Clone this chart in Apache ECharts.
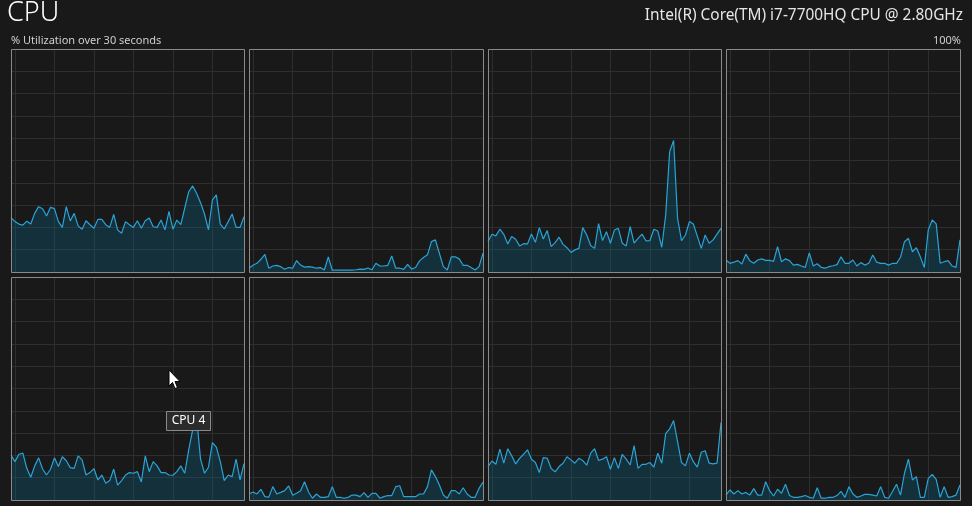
<!DOCTYPE html>
<html>
<head>
<meta charset="utf-8">
<script src="https://cdn.jsdelivr.net/npm/echarts@6/dist/echarts.min.js"></script>
<style>
  html, body { margin: 0; padding: 0; background: #191919; }
  #chart { width: 972px; height: 506px; }
</style>
</head>
<body>
<div id="chart"></div>
<script>
// ---- data ----
const samples = ['0','1','2','3','4','5','6','7','8','9','10','11','12','13','14','15','16','17','18','19',
  '20','21','22','23','24','25','26','27','28','29','30','31','32','33','34','35','36','37','38','39',
  '40','41','42','43','44','45','46','47','48','49','50','51','52','53','54','55','56','57','58','59'];

const cpu0 = [24.4,22.6,21.5,21,22.8,21.5,26.3,29.3,28.4,25.1,29,28.4,22.6,20,29.3,22.9,26.3,20.7,19.2,23,
  21.2,19.6,23.6,23.6,21.2,20,25.8,18.9,17.4,22.6,21.2,20,23,19.6,23,24.2,20.3,20,23.3,18.9,
  27.2,19.2,23.3,21.2,28.7,36,38.6,35.3,31.1,26,18.9,32.3,34.6,21.5,19.3,22.6,26,20,20,24.8];
const cpu1 = [1.7,3,3.9,5.7,7.9,1.7,2.7,3,2.4,1.2,2,1.7,5.1,3.1,2.2,2.4,2.2,1.7,2,0.9,
  6.8,0.8,0.8,0.8,0.8,0.8,0.8,1,1.3,1.2,1.8,1,3.9,2.7,2.7,3,7.2,1.7,1.7,1.2,
  3.4,1.3,2,5,6.5,7.7,13.6,14.4,8.4,2.4,0.9,6.8,6.8,5.9,3,3,2,0.9,2.4,8.4];
const cpu2 = [13.6,16.9,16.2,19.2,16.9,12.6,15.9,14.7,11.7,12.7,12.6,17,13.3,19.9,14.8,18.6,11.4,13.2,15.6,12.4,
  10.9,8.8,9.9,10.6,19.9,16.6,11.9,10.6,21.7,14.1,18.1,12.9,18.8,19.6,12.9,11.7,20.4,12.9,15.1,17,
  14,14.1,19.2,18.4,11.1,25.6,54,59,24.1,14.1,16.6,22.6,21.5,16.1,10.6,16.6,12.9,14.4,17,19.6];
const cpu3 = [5.4,3.9,4.4,5.1,3.6,8,5,3.9,5.4,5.9,5.2,5.2,4.8,11.4,4.6,5.9,5.1,3.1,3.4,2.7,
  2.1,8.6,2.7,3.7,2.1,1.7,2.4,2.8,3.3,6.8,3.9,3.9,5.4,2.7,4.2,3.1,3.9,7.6,4.4,3.9,
  3.9,3.1,3.9,3.9,6.6,13.6,15.1,9.1,10.9,6.8,2,18.9,23.3,21.6,3.9,4.6,5.1,2.7,2.1,14.4];
const cpu4 = [20.2,17.2,20.5,21,14.2,10.2,15.3,18.9,13.9,11.2,13.8,18.9,15,19.4,17.6,14.5,14.2,19.8,18,11.2,
  12.3,14.1,9,11.2,7.5,8.7,13.8,6.7,8.7,11.2,12.3,12,12.7,8.1,19.8,12.7,17.2,15.3,12.3,12.3,
  11.2,11.1,12.7,15.3,12,22.5,31.4,37,18.3,12,14.7,25.7,23.7,17.2,8.7,11.2,10.5,18.3,9,16.3];
const cpu5 = [2.7,3.6,2.7,4.8,1.5,1.3,6,2.7,3.4,4.2,6.3,2.1,3,4.2,8.2,3.6,0.8,2.7,1.2,1.2,
  1.5,6,1.2,1.2,0.8,1.2,2.2,2.2,1.5,3.3,1.2,3,3,0.8,1.5,2,2,6,6.4,1.5,
  1.5,1.5,1.5,2.7,2.7,6,13.5,10.5,6.7,2.2,0.8,4.2,4.2,2.7,5.5,2.7,1.2,1.2,5.2,8];
const cpu6 = [15,17.5,16,22.8,16.5,23,19.8,16.2,18.7,20.5,22.5,18.3,16.8,12.3,19,18.7,14.1,12.6,15,16.5,
  19.4,18,16.5,18.7,17.7,15.6,21,23,17.7,18.3,19.4,13.8,19,14.2,20.5,18.3,15.7,24.4,14.2,16,
  16,16.8,14.7,21,16.5,29.9,31.9,35.6,26.2,16.8,15.3,21,17.2,14.7,21.4,22.1,16.5,16.2,16.5,34.7];
const cpu7 = [2.2,4.5,2.7,4.2,2.7,3.4,2.2,5.1,2.2,2.2,8.2,4.2,1.8,4.8,3,7.1,2,1.2,1.2,1.5,
  2,1.2,0.8,5.5,0.8,0.8,1.2,1.2,2,3.9,1.2,6,2.7,1.2,1.8,2.5,2.5,2.2,1.8,6,
  1.2,0.8,3.9,7.1,2.2,12,18.3,9,10.5,1.2,1.2,9.7,11.5,9.3,1.2,6,1.2,1.5,2.2,6.7];
const cores = [cpu0, cpu1, cpu2, cpu3, cpu4, cpu5, cpu6, cpu7];
const yTicks = [0, 100, 10]; // min, max, step (percent)

const titleText = 'CPU';
const modelText = 'Intel(R) Core(TM) i7-7700HQ CPU @ 2.80GHz';
const subText = '% Utilization over 30 seconds';
const maxText = '100%';
const hoverLabel = 'CPU 4';

// ---- layout / style ----
const lefts = [11, 249, 488, 726];
const widths = [233, 234, 233, 234];
const tops = [49, 277];
const height = 223;
const lineColor = '#2ba3d6';
const fillColor = 'rgba(6,104,140,0.30)';
const gridColor = '#2e2e2e';
const borderColor = '#8a8a8a';
const font = "'Segoe UI', 'Noto Sans', 'Open Sans', sans-serif";

const grids = [], xAxes = [], yAxes = [], series = [];
cores.forEach((vals, i) => {
  const col = i % 4, row = Math.floor(i / 4);
  grids.push({ left: lefts[col], top: tops[row], width: widths[col], height: height,
    show: false, containLabel: false });
  xAxes.push({ gridIndex: i, type: 'category', data: samples, boundaryGap: false,
    axisLine: { show: false }, axisTick: { show: false }, axisLabel: { show: false },
    splitLine: { show: true, interval: (idx) => idx % 10 === 1,
      lineStyle: { color: gridColor, width: 1 } } });
  yAxes.push({ gridIndex: i, type: 'value', min: yTicks[0], max: yTicks[1], interval: yTicks[2],
    axisLine: { show: false }, axisTick: { show: false }, axisLabel: { show: false },
    splitLine: { show: true, lineStyle: { color: gridColor, width: 1 } } });
  series.push({ type: 'line', xAxisIndex: i, yAxisIndex: i, data: vals,
    showSymbol: false, symbol: 'none', smooth: false,
    lineStyle: { color: lineColor, width: 1.2 },
    areaStyle: { color: fillColor, opacity: 1 } });
});

const graphics = [];
cores.forEach((vals, i) => {
  const col = i % 4, row = Math.floor(i / 4);
  graphics.push({ type: 'rect', z: 100, silent: true,
    shape: { x: lefts[col] + 0.5, y: tops[row] + 0.5, width: widths[col], height: height },
    style: { fill: null, stroke: borderColor, lineWidth: 1 } });
});
graphics.push(
  { type: 'text', z: 100, x: 7, y: 13, style: { text: titleText, fill: '#ffffff',
    font: "300 27px " + font, verticalAlign: 'middle', align: 'left' } },
  { type: 'text', z: 100, x: 963, y: 16, style: { text: modelText, fill: '#e6e6e6',
    font: "15.4px " + font, verticalAlign: 'middle', align: 'right' } },
  { type: 'text', z: 100, x: 11, y: 41, style: { text: subText, fill: '#cfcfcf',
    font: "11px " + font, verticalAlign: 'middle', align: 'left' } },
  { type: 'text', z: 100, x: 961, y: 41, style: { text: maxText, fill: '#cfcfcf',
    font: "11px " + font, verticalAlign: 'middle', align: 'right' } },
  { type: 'rect', z: 110, shape: { x: 166.5, y: 411.5, width: 44, height: 19 },
    style: { fill: '#2b2b2b', stroke: '#8a8a8a', lineWidth: 1 } },
  { type: 'text', z: 111, x: 188.5, y: 421, style: { text: hoverLabel, fill: '#ffffff',
    font: "12px " + font, verticalAlign: 'middle', align: 'center' } },
  { type: 'polygon', z: 120, shape: { points: [[169,370],[169,386],[172.5,382.5],[175,388.5],[177.5,387.5],[175,381.5],[180,381.5]] },
    style: { fill: '#ffffff', stroke: '#000000', lineWidth: 1 } }
);

const chart = echarts.init(document.getElementById('chart'), null, { renderer: 'canvas' });
chart.setOption({
  backgroundColor: '#191919',
  animation: false,
  grid: grids, xAxis: xAxes, yAxis: yAxes, series: series,
  graphic: { elements: graphics }
});
</script>
</body>
</html>
